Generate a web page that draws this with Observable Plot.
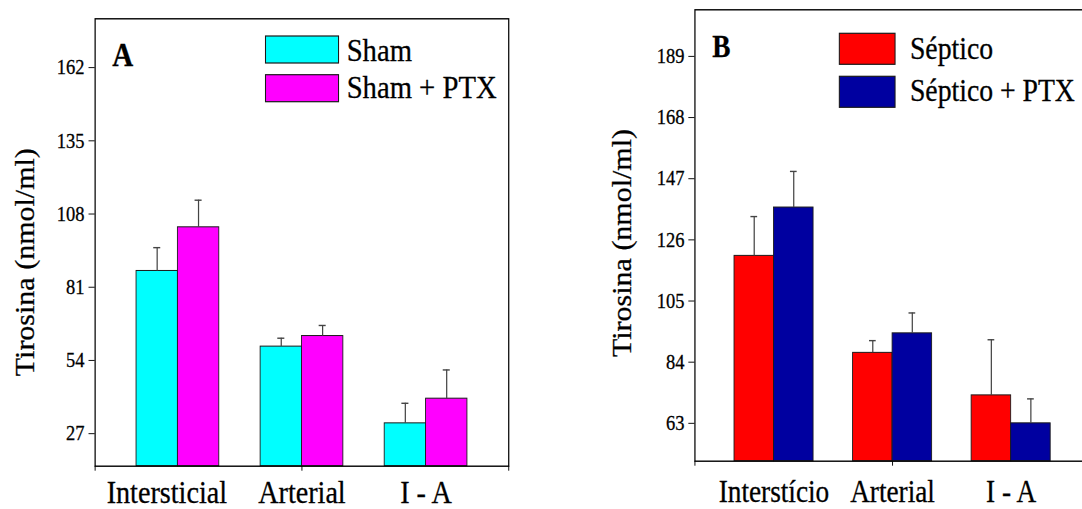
<!DOCTYPE html>
<html>
<head>
<meta charset="utf-8">
<script src="https://cdn.jsdelivr.net/npm/d3@7"></script>
<script src="https://cdn.jsdelivr.net/npm/@observablehq/plot@0.6"></script>
<style>
  html, body { margin: 0; padding: 0; background: #fff; overflow: hidden; width: 1082px; height: 509px; }
  #stage { position: absolute; left: 0; top: 0; width: 1260px; height: 509px; transform: scaleX(0.88); transform-origin: 0 0; font-family: 'Liberation Serif', 'Times New Roman', serif; }
  #stage text { stroke: #000; stroke-width: 0.3px; }
  #panelA { position: absolute; left: 0; top: 0; width: 615px; height: 509px; }
  #panelB { position: absolute; left: 615px; top: 0; width: 640px; height: 509px; }
  #legend { position: absolute; left: 0; top: 0; pointer-events: none; }
  svg { max-width: none !important; }
</style>
</head>
<body>
<div id="stage">
  <div id="panelA"></div>
  <div id="panelB"></div>
  <svg id="legend" width="1260" height="509"></svg>
</div>
<script>
// ---------- Data ----------
const yLabel = "Tirosina (nmol/ml)";

// Panel A
const categoriesA = ["Intersticial", "Arterial", "I - A"];
const seriesA = ["Sham", "Sham + PTX"];
const shamMean = [87.0, 59.1, 30.8];
const shamErr = [8.6, 3.1, 7.4];
const shamPtxMean = [103.1, 63.0, 39.9];
const shamPtxErr = [10.0, 3.9, 10.6];
const yTicksA = [27, 54, 81, 108, 135, 162];
const yDomainA = [15, 180];
const colorsA = ["#00FFFF", "#FF00FF"];

// Panel B
const categoriesB = ["Interstício", "Arterial", "I - A"];
const seriesB = ["Séptico", "Séptico + PTX"];
const septicoMean = [120.5, 87.2, 72.6];
const septicoErr = [13.5, 4.2, 19.1];
const septicoPtxMean = [137.1, 93.9, 63.0];
const septicoPtxErr = [12.4, 7.0, 8.4];
const yTicksB = [63, 84, 105, 126, 147, 168, 189];
const yDomainB = [50, 205];
const colorsB = ["#FF0000", "#0000A0"];

// ---------- Drawing ----------
const FONT = "'Liberation Serif', 'Times New Roman', serif";

function makePanel(cfg) {
  const xDomain = [0, 10];
  const group = d3.scaleBand(cfg.categories, xDomain).paddingInner(1 / 3).paddingOuter(1 / 3);
  const sub = d3.scaleBand(cfg.series, [0, group.bandwidth()]);
  const cap = 0.085;
  const rows = [];
  cfg.series.forEach((s, si) => cfg.categories.forEach((c, ci) => {
    const x1 = group(c) + sub(s);
    rows.push({
      category: c, series: s,
      mean: cfg.means[si][ci], err: cfg.errs[si][ci],
      x1, x2: x1 + sub.bandwidth(), cx: x1 + sub.bandwidth() / 2
    });
  }));
  const labels = cfg.categories.map((c, i) => ({ category: c, i, x: group(c) + group.bandwidth() / 2 }));

  return Plot.plot({
    width: cfg.width,
    height: 509,
    marginLeft: cfg.margin.left,
    marginRight: cfg.margin.right,
    marginTop: cfg.margin.top,
    marginBottom: cfg.margin.bottom,
    style: { fontFamily: FONT, fontSize: "21px", color: "#000", background: "transparent", overflow: "visible" },
    x: { domain: xDomain, ticks: [0, 5, 10], tickFormat: () => "", tickSize: 5, label: null },
    y: { domain: cfg.yDomain, ticks: cfg.yTicks, tickSize: 7, tickPadding: 5, label: null },
    color: { domain: cfg.series, range: cfg.colors },
    marks: [
      Plot.rectY(rows, { x1: "x1", x2: "x2", y1: cfg.yDomain[0], y2: "mean", fill: "series", stroke: "#1a1a1a", strokeWidth: 1 }),
      Plot.ruleX(rows, { x: "cx", y1: "mean", y2: d => d.mean + d.err, stroke: "#444", strokeWidth: 1.4 }),
      Plot.ruleY(rows, { y: d => d.mean + d.err, x1: d => d.cx - cap, x2: d => d.cx + cap, stroke: "#444", strokeWidth: 1.4 }),
      Plot.frame({ stroke: "#000", strokeWidth: 1.4 }),
      Plot.text(labels.filter(d => d.i === 0), { x: "x", text: "category", frameAnchor: "bottom", lineAnchor: "bottom", dx: cfg.firstCatDx, dy: cfg.catDy, fontSize: cfg.catFontSize, fill: "#000" }),
      Plot.text(labels.filter(d => d.i > 0), { x: "x", text: "category", frameAnchor: "bottom", lineAnchor: "bottom", dy: cfg.catDy, fontSize: cfg.catFontSize, fill: "#000" }),
      Plot.text([yLabel], { text: d => d, frameAnchor: "left", rotate: -90, textAnchor: "middle", lineAnchor: "bottom", dx: cfg.labelDx, dy: cfg.labelDy, fontSize: 30, fill: "#000" }),
      Plot.text([cfg.letter], { text: d => d, frameAnchor: "top-left", textAnchor: "start", lineAnchor: "bottom", dx: cfg.letterDx, dy: cfg.letterDy, fontSize: cfg.letterSize, fontWeight: "bold", fill: "#000" })
    ]
  });
}

const plotA = makePanel({
  categories: categoriesA, series: seriesA,
  means: [shamMean, shamPtxMean], errs: [shamErr, shamPtxErr],
  colors: colorsA, yDomain: yDomainA, yTicks: yTicksA,
  width: 615, margin: { left: 107.6, right: 37.4, top: 18.3, bottom: 43.3 },
  catFontSize: 32, catDy: 36.8, firstCatDx: -12.5,
  labelDx: -70, labelDy: 19.7,
  letter: "A", letterDx: 19.4, letterDy: 46.7, letterSize: 33
});
document.getElementById("panelA").appendChild(plotA);

const plotB = makePanel({
  categories: categoriesB, series: seriesB,
  means: [septicoMean, septicoPtxMean], errs: [septicoErr, septicoPtxErr],
  colors: colorsB, yDomain: yDomainB, yTicks: yTicksB,
  width: 640, margin: { left: 174.2, right: 16.7, top: 9.3, bottom: 48.3 },
  catFontSize: 31, catDy: 41, firstCatDx: 0,
  labelDx: -73, labelDy: 7.5,
  letter: "B", letterDx: 19.6, letterDy: 47.4, letterSize: 31
});
document.getElementById("panelB").appendChild(plotB);

// ---------- Legends ----------
function drawLegend(svg, series, colors, o) {
  const g = svg.append("g").attr("font-family", FONT).attr("font-size", o.fontSize);
  series.forEach((s, i) => {
    g.append("rect")
      .attr("x", o.x).attr("y", o.ys[i]).attr("width", o.w).attr("height", o.h)
      .attr("fill", colors[i]).attr("stroke", "#1a1a1a").attr("stroke-width", 1.2);
    g.append("text")
      .attr("x", o.textX).attr("y", o.baselines[i]).attr("fill", "#000").text(s);
  });
}
const legendSvg = d3.select("#legend");
drawLegend(legendSvg, seriesA, colorsA, { x: 301.7, ys: [36, 74.7], w: 83, h: 27, textX: 393.9, baselines: [61, 98.5], fontSize: 32.6 });
drawLegend(legendSvg, seriesB, colorsB, { x: 953.8, ys: [33.3, 76.3], w: 63.3, h: 31, textX: 1034, baselines: [59.3, 100.7], fontSize: 31.5 });
</script>
</body>
</html>
